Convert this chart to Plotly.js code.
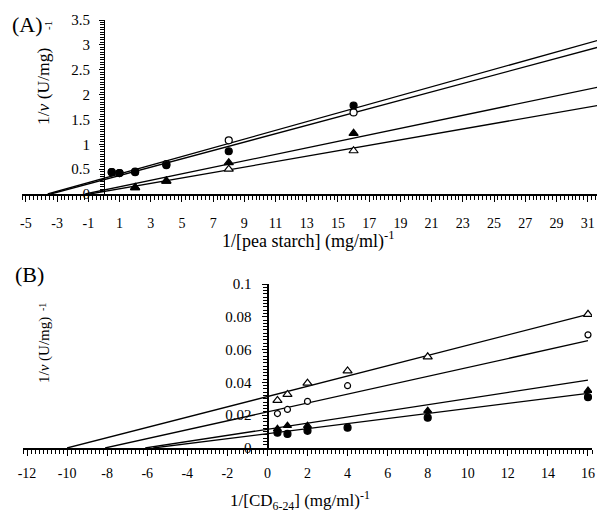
<!DOCTYPE html>
<html><head><meta charset="utf-8">
<script src="https://cdn.plot.ly/plotly-3.0.1.min.js"></script>
<style>html,body{margin:0;padding:0;background:#fff}#chart{width:598px;height:515px}</style>
</head><body><div id="chart"></div>
<script>
// ---------- Panel (A): 1/[pea starch] ----------
const aX = [0.5, 1, 2, 4, 8, 16, 32];
const aFilledCircle = [0.44, 0.42, 0.44, 0.58, 0.86, 1.78, 3.2];
const aOpenCircle   = [0.44, 0.42, 0.45, 0.6, 1.08, 1.64, 3.02];
const aTriX = [2, 4, 8, 16, 32];
const aFilledTri = [0.13, 0.26, 0.63, 1.22, 2.0];
const aOpenTri   = [0.13, 0.26, 0.5, 0.87, 1.72];
// fitted lines (end points)
const aFit1X = [-3.6, 32], aFit1Y = [0, 3.12];
const aFit2X = [-3.4, 32], aFit2Y = [0, 2.98];
const aFit3X = [-1.2, 32], aFit3Y = [0, 2.17];
const aFit4X = [-0.9, 32], aFit4Y = [0, 1.8];
const aTickVals = [-5, -3, -1, 1, 3, 5, 7, 9, 11, 13, 15, 17, 19, 21, 23, 25, 27, 29, 31];
const aTickText = ['-5', '-3', '-1', '1', '3', '5', '7', '9', '11', '13', '15', '17', '19', '21', '23', '25', '27', '29', '31'];

// ---------- Panel (B): 1/[CD6-24] ----------
const bX = [0.5, 1, 2, 4, 8, 16];
const bOpenTri = [0.029, 0.0327, 0.0395, 0.047, 0.0556, 0.0815];
const bOpenCircX = [0.5, 1, 2, 4, 16];
const bOpenCirc = [0.021, 0.0235, 0.0284, 0.038, 0.069];
const bFilledTriX = [0.5, 1, 2, 8, 16];
const bFilledTri = [0.0117, 0.0136, 0.0136, 0.0228, 0.035];
const bFilledCirc = [0.0093, 0.0086, 0.0105, 0.0124, 0.0185, 0.031];
const bFit1X = [-10, 16], bFit1Y = [0, 0.0815];
const bFit2X = [-8.1, 16], bFit2Y = [0, 0.0654];
const bFit3X = [-6.1, 16], bFit3Y = [0, 0.0414];
const bFit4X = [-5.7, 16], bFit4Y = [0, 0.0333];
const bTickVals = [-12, -10, -8, -6, -4, -2, 0, 2, 4, 6, 8, 10, 12, 14, 16];
const bTickText = ['-12', '-10', '-8', '-6', '-4', '-2', '0', '2', '4', '6', '8', '10', '12', '14', '16'];

const FONT = '"Liberation Serif", "Times New Roman", serif';
const W = 598, H = 515;

function line(x, y, xa, ya) {
  return {x, y, xaxis: xa, yaxis: ya, mode: 'lines', type: 'scatter',
          line: {color: '#000', width: 1.3}, hoverinfo: 'skip', showlegend: false};
}
function pts(x, y, xa, ya, symbol, filled, size) {
  return {x, y, xaxis: xa, yaxis: ya, mode: 'markers', type: 'scatter', showlegend: false,
          marker: {symbol, size, color: filled ? '#000' : '#fff', line: {color: '#000', width: 1.2}}};
}

const traces = [
  line(aFit1X, aFit1Y, 'x', 'y'), line(aFit2X, aFit2Y, 'x', 'y'),
  line(aFit3X, aFit3Y, 'x', 'y'), line(aFit4X, aFit4Y, 'x', 'y'),
  pts(aX, aOpenCircle, 'x', 'y', 'circle', false, 7),
  pts(aX, aFilledCircle, 'x', 'y', 'circle', true, 7),
  pts(aTriX, aOpenTri, 'x', 'y', 'triangle-up', false, 8),
  pts(aTriX, aFilledTri, 'x', 'y', 'triangle-up', true, 8),

  line(bFit1X, bFit1Y, 'x2', 'y2'), line(bFit2X, bFit2Y, 'x2', 'y2'),
  line(bFit3X, bFit3Y, 'x2', 'y2'), line(bFit4X, bFit4Y, 'x2', 'y2'),
  pts(bX, bOpenTri, 'x2', 'y2', 'triangle-up', false, 8),
  pts(bOpenCircX, bOpenCirc, 'x2', 'y2', 'circle', false, 6),
  pts(bX, bFilledCirc, 'x2', 'y2', 'circle', true, 7),
  pts(bFilledTriX, bFilledTri, 'x2', 'y2', 'triangle-up', true, 7)
];

// plot areas in pixels
const aXdom = [22 / W, 597 / W], aYdom = [1 - 194 / H, 1 - 20 / H];
const bXdom = [23 / W, 592 / W], bYdom = [1 - 448 / H, 1 - 284 / H];
const aXrange = [-5.25, 31.6], aYrange = [0, 3.5];
const bXrange = [-12.2, 16.2], bYrange = [0, 0.1];

function zeroPos(dom, range) {
  return dom[0] + (0 - range[0]) / (range[1] - range[0]) * (dom[1] - dom[0]);
}

function xax(dom, range, anchor, vals, text, tick0, minorDtick, standoff) {
  return {domain: dom, range, anchor, tickmode: 'array', tickvals: vals, ticktext: text,
    showline: true, linecolor: '#000', linewidth: 1.5, showgrid: false, zeroline: false,
    ticks: 'outside', ticklen: 6, tickwidth: 1, tickcolor: '#000', ticklabelstandoff: standoff,
    tickfont: {family: FONT, size: 14, color: '#000'},
    minor: {tickmode: 'linear', tick0, dtick: minorDtick, ticks: 'outside', ticklen: 4,
            tickwidth: 1, tickcolor: '#000', showgrid: false}};
}
function yax(dom, range, pos, dtick, minorDtick, standoff) {
  return {domain: dom, range, anchor: 'free', position: pos, tickmode: 'linear', tick0: 0, dtick,
    showline: true, linecolor: '#000', linewidth: 1.5, showgrid: false, zeroline: false,
    ticks: 'outside', ticklen: 5, tickwidth: 1, tickcolor: '#000', ticklabelstandoff: standoff,
    tickfont: {family: FONT, size: 15, color: '#000'},
    minor: {tickmode: 'linear', tick0: 0, dtick: minorDtick, ticks: 'outside', ticklen: 4,
            tickwidth: 1, tickcolor: '#000', showgrid: false}};
}

function ann(text, px, py, size, angle) {
  return {text, xref: 'paper', yref: 'paper', x: px / W, y: 1 - py / H,
    xanchor: 'center', yanchor: 'middle', showarrow: false, textangle: angle || 0,
    font: {family: FONT, size, color: '#000'}};
}

const layout = {
  width: W, height: H, margin: {l: 0, r: 0, t: 0, b: 0},
  paper_bgcolor: '#fff', plot_bgcolor: 'rgba(0,0,0,0)', showlegend: false,
  xaxis: xax(aXdom, aXrange, 'y', aTickVals, aTickText, -5, 0.25, 10),
  yaxis: yax(aYdom, aYrange, zeroPos(aXdom, aXrange), 0.5, 0.05, 6),
  xaxis2: xax(bXdom, bXrange, 'y2', bTickVals, bTickText, -12, 0.2, 6),
  yaxis2: yax(bYdom, bYrange, zeroPos(bXdom, bXrange), 0.02, 0.002, 8),
  annotations: [
    ann('(A)', 28, 24, 22),
    ann('(B)', 29, 274, 22),
    ann('1/<i>v</i> (U/mg)', 43, 86, 17.5, -90),
    ann('-1', 48, 26, 11, -90),
    ann('1/[pea starch] (mg/ml)<sup>-1</sup>', 308, 240, 18),
    ann('1/<i>v</i> (U/mg)', 44, 350, 15, -90),
    ann('-1', 42, 307, 10, -90),
    ann('1/[CD<sub>6-24</sub>] (mg/ml)<sup>-1</sup>', 300, 500, 17)
  ]
};

Plotly.newPlot('chart', traces, layout, {staticPlot: true, displayModeBar: false});
</script>
</body></html>
